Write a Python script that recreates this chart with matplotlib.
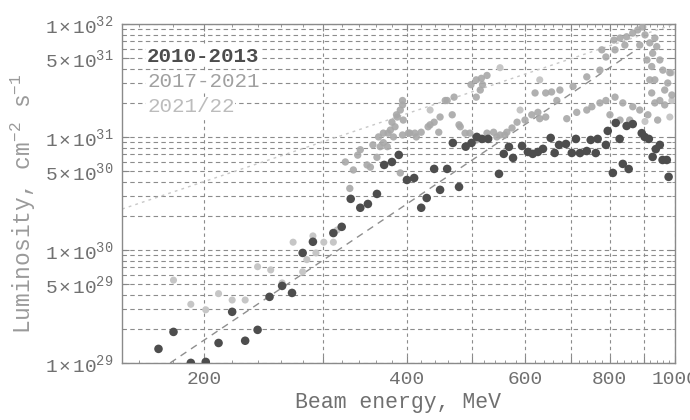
import matplotlib

matplotlib.use("Agg")

import matplotlib.pyplot as plt
from matplotlib.ticker import FixedLocator, NullFormatter

# ── Data: beam energy (MeV), luminosity (cm^-2 s^-1) ─────────────────────────
E_2010 = [171, 180, 191, 201, 210, 220, 230, 240, 250, 261, 270, 280, 290, 311,
          320, 330, 341, 350, 361, 370, 380, 389, 400, 410, 420, 428, 439, 448,
          459, 468, 478, 489, 499, 508, 517, 528, 548, 557, 567, 575, 593, 605,
          615, 626, 637, 654, 663, 673, 689, 703, 713, 723, 740, 750, 763, 768,
          790, 795, 809, 817, 828, 837, 848, 854, 866, 893, 902, 915, 927, 937,
          950, 959, 973, 979]
L_2010 = [1.33e29, 1.88e29, 1.0e29, 1.02e29, 1.5e29, 2.83e29, 1.57e29, 1.96e29,
          3.84e29, 4.8e29, 4.16e29, 9.4e29, 1.18e30, 1.41e30, 1.6e30, 2.83e30,
          2.36e30, 2.55e30, 3.13e30, 5.65e30, 6.0e30, 6.93e30, 4.16e30, 4.33e30,
          2.36e30, 2.88e30, 5.21e30, 3.4e30, 5.21e30, 8.85e30, 3.61e30, 8.2e30,
          8.85e30, 1.0e31, 9.6e30, 9.6e30, 4.71e30, 7.08e30, 8.17e30, 6.52e30,
          8.32e30, 7.36e30, 7.08e30, 7.36e30, 7.84e30, 9.8e30, 7.21e30, 8.5e30,
          8.66e30, 7.21e30, 9.6e30, 7.2e30, 7.5e30, 9.4e30, 7.2e30, 9.6e30,
          8.5e30, 1.13e31, 4.8e30, 1.33e31, 9.6e30, 5.77e30, 1.25e31, 5.2e30,
          1.3e31, 1.08e31, 1.0e31, 9.6e30, 6.65e30, 7.8e30, 8.5e30, 6.25e30,
          6.25e30, 4.43e30]

E_2017 = [329, 333, 341, 349, 353, 361, 369, 375, 380, 386, 394, 395, 391, 404,
          413, 420, 433, 446, 456, 467, 478, 496, 507, 526, 544, 559, 394, 391,
          387, 384, 378, 369, 363, 365, 374, 382, 394, 402, 411, 430, 439, 448,
          459, 470, 480, 488, 498, 507, 516, 526, 514, 507, 518, 538, 550, 563,
          573, 583, 599, 613, 626, 620, 643, 656, 675, 668, 630, 643, 691, 715,
          740, 753, 774, 790, 815, 837, 866, 887, 812, 829, 848, 866, 881, 896,
          918, 927, 924, 918, 924, 934, 950, 966, 976, 983, 950, 940, 909, 790,
          779, 774, 740, 706, 903, 934, 843, 815, 887, 966, 990, 934, 960, 912,
          943, 857, 801, 829, 324, 338, 356]
L_2017 = [3.5e30, 5.1e30, 7.7e30, 5.65e30, 5.4e30, 6.6e30, 8.9e30, 1.08e31,
          1.35e31, 1.57e31, 1.92e31, 1.41e31, 4.8e30, 1.08e31, 1.0e31, 1.1e31,
          1.28e31, 1.1e31, 2.1e31, 1.57e31, 1.28e31, 1.08e31, 9.4e30, 1.08e31,
          1.0e31, 1.04e31, 2.1e31, 1.73e31, 1.5e31, 1.23e31, 1.15e31, 1.08e31,
          1.0e31, 8.2e30, 8.2e30, 1.0e31, 1.04e31, 1.08e31, 1.08e31, 1.23e31,
          1.35e31, 1.5e31, 2.1e31, 2.25e31, 1.23e31, 1.08e31, 2.9e31, 3.2e31,
          3.3e31, 3.5e31, 2.6e31, 2.25e31, 2.9e31, 1.1e31, 1.04e31, 1.1e31,
          1.2e31, 1.35e31, 1.41e31, 1.57e31, 1.65e31, 2.45e31, 2.45e31, 2.5e31,
          2.6e31, 2.1e31, 1.45e31, 1.5e31, 1.45e31, 1.65e31, 1.73e31, 1.85e31,
          2.0e31, 2.1e31, 2.25e31, 2.0e31, 1.85e31, 1.73e31, 7.2e31, 7.5e31,
          7.7e31, 8.3e31, 8.85e31, 9.4e31, 6.8e31, 5.5e31, 4.2e31, 3.2e31,
          2.45e31, 2.0e31, 2.1e31, 2.6e31, 3.0e31, 3.7e31, 4.8e31, 6.3e31,
          4.8e31, 5.1e31, 5.9e31, 3.9e31, 3.4e31, 2.8e31, 8.0e31, 7.5e31,
          6.5e31, 5.9e31, 6.5e31, 1.92e31, 2.35e31, 3.2e31, 3.9e31, 1.57e31,
          1.41e31, 1.41e31, 1.57e31, 1.41e31, 6.0e30, 6.9e30, 8.5e30]

E_2021 = [180, 191, 201, 210, 220, 230, 240, 251, 261, 271, 280, 284, 290, 293,
          301, 311, 315, 550, 630, 433, 589, 983, 990, 903, 988]
L_2021 = [5.4e29, 3.3e29, 2.95e29, 4.1e29, 3.6e29, 3.6e29, 7.1e29, 6.65e29,
          5.1e29, 1.17e30, 6.4e29, 8.2e29, 1.33e30, 9.4e29, 1.17e30, 1.17e30,
          1.5e30, 4.1e31, 3.2e31, 1.73e31, 1.73e31, 1.5e31, 2.1e31, 1.37e31,
          3.7e31]

# guide lines (end points)
STEEP_E = [178, 880]
STEEP_L = [1.0e29, 6.0e31]
SHALLOW_E = [151, 1000]
SHALLOW_L = [2.3e30, 1.0e32]

X_MAJOR = [200, 300, 400, 500, 600, 700, 800, 900, 1000]
X_LABELS = ["200", "", "400", "", "600", "", "800", "", "1000"]
Y_MAJOR = [1e29, 5e29, 1e30, 5e30, 1e31, 5e31, 1e32]
Y_LABELS = [r"$1\,{\times}\,10^{29}$", r"$5\,{\times}\,10^{29}$",
            r"$1\,{\times}\,10^{30}$", r"$5\,{\times}\,10^{30}$",
            r"$1\,{\times}\,10^{31}$", r"$5\,{\times}\,10^{31}$",
            r"$1\,{\times}\,10^{32}$"]

DARK, MID, LIGHT = "#4d4d4d", "#a8a8a8", "#c6c6c6"
TXT = "#707070"
MONO = "Liberation Mono"

plt.rcParams.update({
    "font.family": MONO,
    "mathtext.fontset": "custom",
    "mathtext.rm": MONO,
    "mathtext.it": MONO,
    "mathtext.bf": MONO,
})

fig = plt.figure(figsize=(6.9, 4.2), dpi=100)
ax = fig.add_axes([0.177, 0.136, 0.801, 0.807])
ax.set_xscale("log")
ax.set_yscale("log")

ax.plot(SHALLOW_E, SHALLOW_L, color="#c8c8c8", lw=1.0, ls=(0, (2, 3)), zorder=2)
ax.plot(STEEP_E, STEEP_L, color="#8f8f8f", lw=1.0, ls=(0, (5, 4)), zorder=2)

ax.scatter(E_2021, L_2021, s=26, color=LIGHT, edgecolors="none", zorder=3)
ax.scatter(E_2017, L_2017, s=28, color=MID, edgecolors="none", alpha=0.9, zorder=3)
ax.scatter(E_2010, L_2010, s=38, color=DARK, edgecolors="none", zorder=4)

ax.set_xlim(151, 1000)
ax.set_ylim(1e29, 1e32)

ax.xaxis.set_major_locator(FixedLocator(X_MAJOR))
ax.set_xticklabels(X_LABELS)
ax.xaxis.set_minor_locator(FixedLocator(list(range(160, 1000, 20))))
ax.xaxis.set_minor_formatter(NullFormatter())

y_minor = [m * 10.0 ** p for p in (29, 30, 31) for m in (2, 3, 4, 6, 7, 8, 9)]
ax.yaxis.set_major_locator(FixedLocator(Y_MAJOR))
ax.set_yticklabels(Y_LABELS)
ax.yaxis.set_minor_locator(FixedLocator(y_minor))
ax.yaxis.set_minor_formatter(NullFormatter())

ax.grid(True, axis="x", which="major", color="#8c8c8c", lw=0.8, ls=(0, (3, 3)))
ax.grid(True, axis="y", which="both", color="#8c8c8c", lw=0.8, ls=(0, (4, 3)))
ax.set_axisbelow(True)

ax.tick_params(which="both", direction="in", top=True, right=True,
               colors="#888888", labelcolor=TXT, labelsize=14, pad=6)
ax.tick_params(which="major", length=5)
ax.tick_params(which="minor", length=2.5)
for sp in ax.spines.values():
    sp.set_color("#8a8a8a")
    sp.set_linewidth(1.0)

ax.set_xlabel("Beam energy, MeV", fontsize=15.5, color=TXT, labelpad=3)
ax.set_ylabel(r"Luminosity, cm$^{-2}$ s$^{-1}$", fontsize=16.5, color="#9a9a9a")
ax.yaxis.set_label_coords(-0.152, 0.47)

legend_items = [("2010-2013", DARK, "bold"), ("2017-2021", "#a0a0a0", "normal"),
                ("2021/22", "#bcbcbc", "normal")]
for i, (lab, col, w) in enumerate(legend_items):
    ax.text(0.045, 0.905 - i * 0.075, lab, transform=ax.transAxes, fontsize=15,
            color=col, fontweight=w, va="center", ha="left", zorder=6,
            bbox=dict(facecolor="white", edgecolor="none", pad=0.5))

fig.savefig("out.png", dpi=100)
